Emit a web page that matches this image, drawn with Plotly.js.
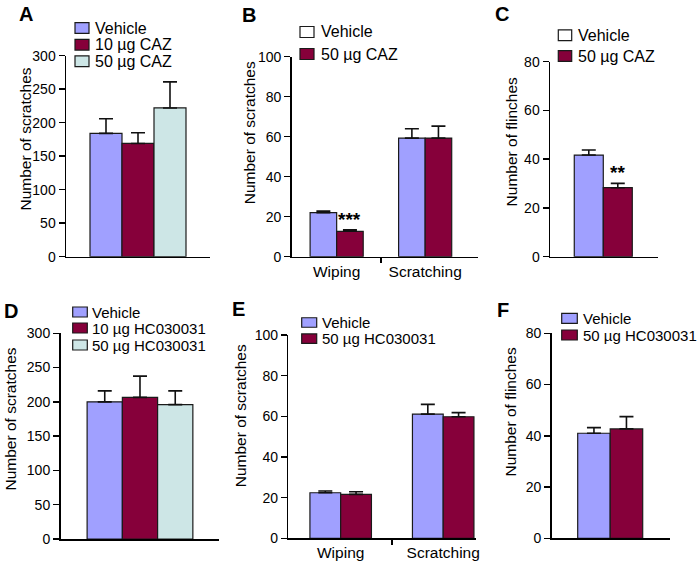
<!DOCTYPE html>
<html><head><meta charset="utf-8">
<script src="https://cdn.plot.ly/plotly-3.0.1.min.js"></script>
<style>html,body{margin:0;padding:0;background:#fff}#chart{width:700px;height:566px}</style>
</head><body><div id="chart"></div>
<script>
// ---------- data ----------
// Panel A
const aGroups = ['Vehicle', '10 µg CAZ', '50 µg CAZ'];
const aMeans = [184, 169, 222];
const aSem = [22, 16, 39];
// Panel B
const bCats = ['Wiping', 'Scratching'];
const bGroups = ['Vehicle', '50 µg CAZ'];
const bVehicle = [22.0, 59.3];
const bVehicleSem = [0.8, 4.7];
const bCaz = [12.7, 59.3];
const bCazSem = [0.7, 6.0];
const bStars = ['***', ''];
// Panel C
const cGroups = ['Vehicle', '50 µg CAZ'];
const cMeans = [41.7, 28.3];
const cSem = [2.1, 1.8];
const cStars = ['', '**'];
// Panel D
const dGroups = ['Vehicle', '10 µg HC030031', '50 µg HC030031'];
const dMeans = [200, 206.5, 196];
const dSem = [16, 31, 20];
// Panel E
const eCats = ['Wiping', 'Scratching'];
const eGroups = ['Vehicle', '50 µg HC030031'];
const eVehicle = [22.4, 61.1];
const eVehicleSem = [0.9, 4.8];
const eHc = [21.6, 59.8];
const eHcSem = [1.3, 2.0];
// Panel F
const fGroups = ['Vehicle', '50 µg HC030031'];
const fMeans = [41.0, 42.7];
const fSem = [2.2, 4.8];

const panelLetters = ['A', 'B', 'C', 'D', 'E', 'F'];
const yTitles = ['Number of scratches', 'Number of scratches', 'Number of flinches',
                 'Number of scratches', 'Number of scratches', 'Number of flinches'];

// ---------- styles ----------
const FONT = 'Liberation Sans, Arial, sans-serif';
const C_VEH = '#a0a0ff', C_LOW = '#86003a', C_HIGH = '#cde6e6', C_WHITE = '#ffffff';
const W = 700, H = 566;
const px = v => v / W;
const py = v => 1 - v / H;

const traces = [];
function bar(name, x, y, sem, color, xa, ya) {
  traces.push({
    type: 'bar', name: name, x: x, y: y, xaxis: xa, yaxis: ya, showlegend: false,
    marker: {color: color, line: {color: '#1a1a1a', width: 1.2}},
    error_y: {type: 'data', symmetric: false, array: sem, arrayminus: sem.map(() => 0),
              color: '#111', thickness: 1.6, width: 7}
  });
}
// single-category panels: one trace per group
const one = ['g'];
aGroups.forEach((g, i) => bar(g, one, [aMeans[i]], [aSem[i]], [C_VEH, C_LOW, C_HIGH][i], 'x', 'y'));
const bX = bCats.map((c, i) => i);
bar(bGroups[0], bX, bVehicle, bVehicleSem, C_VEH, 'x2', 'y2');
bar(bGroups[1], bX, bCaz, bCazSem, C_LOW, 'x2', 'y2');
cGroups.forEach((g, i) => bar(g, one, [cMeans[i]], [cSem[i]], [C_VEH, C_LOW][i], 'x3', 'y3'));
dGroups.forEach((g, i) => bar(g, one, [dMeans[i]], [dSem[i]], [C_VEH, C_LOW, C_HIGH][i], 'x4', 'y4'));
const eX = eCats.map((c, i) => i);
bar(eGroups[0], eX, eVehicle, eVehicleSem, C_VEH, 'x5', 'y5');
bar(eGroups[1], eX, eHc, eHcSem, C_LOW, 'x5', 'y5');
fGroups.forEach((g, i) => bar(g, one, [fMeans[i]], [fSem[i]], [C_VEH, C_LOW][i], 'x6', 'y6'));

// ---------- geometry (pixels) ----------
const geo = [
  {x0: 66,    x1: 210,   yTop: 55.7,  yBot: 256.7, xr: [-0.45, 0.45],   yr: [0, 300], dt: 50, cat: true},
  {x0: 291.7, x1: 478,   yTop: 56.7,  yBot: 256.7, xr: [-0.508, 1.597], yr: [0, 100], dt: 20, cat: false, cats: bCats},
  {x0: 550,   x1: 658.3, yTop: 61.7,  yBot: 256.7, xr: [-0.551, 0.569], yr: [0, 80],  dt: 20, cat: true},
  {x0: 60.5,  x1: 219.3, yTop: 333.3, yBot: 539,   xr: [-0.451, 0.45],  yr: [0, 300], dt: 50, cat: true},
  {x0: 288.3, x1: 476,   yTop: 335,   yBot: 538.3, xr: [-0.511, 1.32],  yr: [0, 100], dt: 20, cat: false, cats: eCats},
  {x0: 551.7, x1: 670,   yTop: 333.3, yBot: 538.3, xr: [-0.54, 0.552],  yr: [0, 80],  dt: 20, cat: true}
];

const layout = {
  width: W, height: H, margin: {l: 0, r: 0, t: 0, b: 0},
  paper_bgcolor: '#fff', plot_bgcolor: 'rgba(0,0,0,0)',
  barmode: 'group', bargap: 0.4, bargroupgap: 0,
  font: {family: FONT, color: '#000', size: 14},
  showlegend: false, annotations: [], shapes: []
};

geo.forEach((g, i) => {
  const n = i === 0 ? '' : String(i + 1);
  const xa = {
    domain: [px(g.x0), px(g.x1)], anchor: 'y' + n, range: g.xr,
    showline: true, linecolor: '#000', linewidth: 1.5, showgrid: false, zeroline: false,
    fixedrange: true
  };
  if (g.cat) {
    Object.assign(xa, {type: 'category', showticklabels: false, ticks: ''});
  } else {
    Object.assign(xa, {
      type: 'linear', tickmode: 'array', tickvals: g.cats.map((c, k) => k), ticktext: g.cats,
      ticks: '', tickfont: {size: 15.5},
      minor: {tickmode: 'array', tickvals: [0.5], ticks: 'outside', ticklen: 5, tickwidth: 1.5,
              tickcolor: '#000', showgrid: false}
    });
  }
  layout['xaxis' + n] = xa;
  layout['yaxis' + n] = {
    domain: [py(g.yBot), py(g.yTop)], anchor: 'x' + n, range: g.yr, dtick: g.dt, tick0: 0,
    showline: true, linecolor: '#000', linewidth: 1.5, ticks: 'outside', ticklen: 6,
    tickwidth: 1.5, tickcolor: '#000', tickfont: {size: 14}, showgrid: false, zeroline: false,
    fixedrange: true
  };
});

// panel letters
const letterPos = [[26, 14], [249, 15.5], [502, 14], [11, 311], [238, 309], [502.5, 310]];
panelLetters.forEach((t, i) => layout.annotations.push({
  xref: 'paper', yref: 'paper', x: px(letterPos[i][0]), y: py(letterPos[i][1]),
  xanchor: 'center', yanchor: 'middle', showarrow: false, text: '<b>' + t + '</b>',
  font: {size: 20, family: FONT, color: '#000'}
}));

// y-axis titles
const titlePos = [[25, 139.5], [249, 133.3], [511.7, 141.7], [9.5, 419], [240.3, 416], [510, 412.5]];
yTitles.forEach((t, i) => layout.annotations.push({
  xref: 'paper', yref: 'paper', x: px(titlePos[i][0]), y: py(titlePos[i][1]),
  xanchor: 'center', yanchor: 'middle', showarrow: false, text: t, textangle: -90,
  font: {size: 15.5, family: FONT, color: '#000'}
}));

// legends (drawn as swatches + labels)
function legend(names, colors, swX, swW, swH, rows, textX, fs) {
  names.forEach((nm, k) => {
    layout.shapes.push({
      type: 'rect', xref: 'paper', yref: 'paper',
      x0: px(swX), x1: px(swX + swW), y0: py(rows[k] + swH / 2), y1: py(rows[k] - swH / 2),
      fillcolor: colors[k], line: {color: '#1a1a1a', width: 1.2}
    });
    layout.annotations.push({
      xref: 'paper', yref: 'paper', x: px(textX), y: py(rows[k]), xanchor: 'left', yanchor: 'middle',
      showarrow: false, text: nm, font: {size: fs, family: FONT, color: '#000'}
    });
  });
}
legend(aGroups, [C_VEH, C_LOW, C_HIGH], 75, 14, 10.7, [28, 44.7, 61.3], 93, 16);
legend(bGroups, [C_WHITE, C_LOW], 300, 14, 11, [32, 54], 319, 16);
legend(cGroups, [C_WHITE, C_LOW], 558.3, 13.4, 10.7, [35.3, 56], 576, 16);
legend(dGroups, [C_VEH, C_LOW, C_HIGH], 72.7, 14.6, 10, [312, 328, 345], 90, 15);
legend(eGroups, [C_VEH, C_LOW], 301.7, 15, 9.5, [322.5, 338.7], 319.5, 15);
legend(fGroups, [C_VEH, C_LOW], 561.7, 15.6, 10, [318.3, 335], 580.5, 15);

// significance stars
const starFont = {size: 19, family: FONT, color: '#000'};
bStars.forEach((s, k) => { if (s) layout.annotations.push({
  xref: 'x2', yref: 'y2', x: bX[k] + 0.15, y: bCaz[k] + bCazSem[k], xanchor: 'center', yanchor: 'bottom',
  yshift: -2, showarrow: false, text: '<b>' + s + '</b>', font: starFont
}); });
cStars.forEach((s, k) => { if (s) layout.annotations.push({
  xref: 'x3', yref: 'y3', x: 0.15, y: cMeans[k] + cSem[k], xanchor: 'center', yanchor: 'bottom',
  yshift: -2, showarrow: false, text: '<b>' + s + '</b>', font: starFont
}); });

Plotly.newPlot('chart', traces, layout, {staticPlot: true, displayModeBar: false});
</script>
</body></html>
